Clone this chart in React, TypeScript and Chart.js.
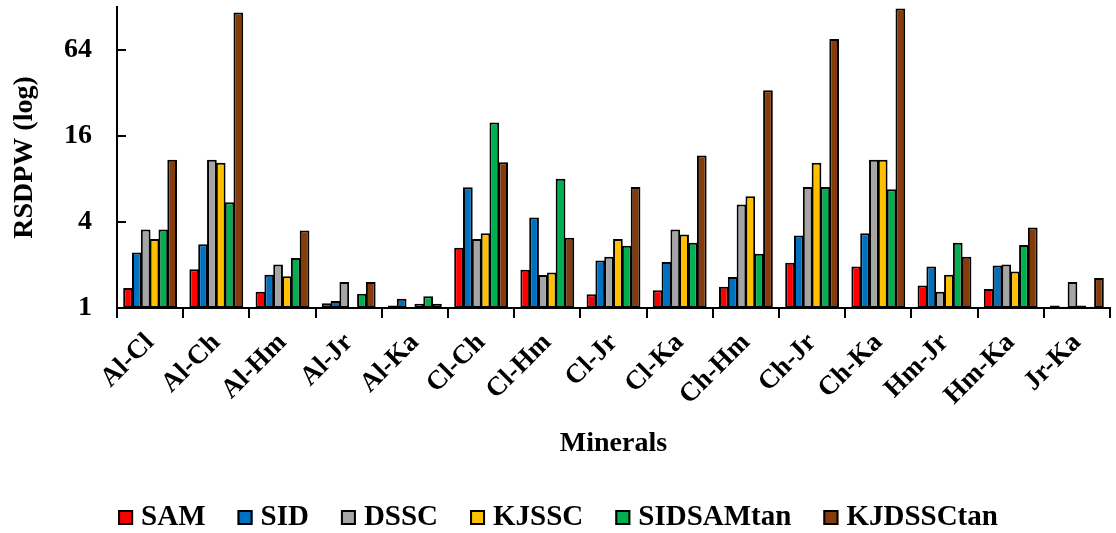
import React, { useEffect, useRef } from "react";
import { Chart, registerables } from "chart.js";

Chart.register(...registerables);

const categories = [
  "Al-Cl", "Al-Ch", "Al-Hm", "Al-Jr", "Al-Ka", "Cl-Ch", "Cl-Hm", "Cl-Jr",
  "Cl-Ka", "Ch-Hm", "Ch-Jr", "Ch-Ka", "Hm-Jr", "Hm-Ka", "Jr-Ka",
];

const samValues = [1.38, 1.87, 1.30, 1.08, 1.04, 2.64, 1.85, 1.25, 1.33, 1.41, 2.07, 1.95, 1.44, 1.36, 1.04];
const sidValues = [2.45, 2.80, 1.71, 1.12, 1.16, 7.0, 4.3, 2.15, 2.10, 1.65, 3.22, 3.34, 1.95, 1.98, 1.02];
const dsscValues = [3.55, 10.9, 2.02, 1.52, 0.9, 3.04, 1.70, 2.28, 3.55, 5.3, 7.02, 10.9, 1.30, 2.02, 1.52];
const kjsscValues = [3.04, 10.4, 1.67, 0.9, 1.07, 3.33, 1.77, 3.04, 3.27, 6.05, 10.4, 10.9, 1.71, 1.80, 1.04];
const sidsamtanValues = [3.55, 5.5, 2.24, 1.26, 1.21, 19.9, 8.03, 2.73, 2.86, 2.40, 7.02, 6.77, 2.86, 2.76, 1.02];
const kjdssctanValues = [10.9, 117, 3.49, 1.52, 1.07, 10.5, 3.10, 7.02, 11.7, 33.4, 76.5, 125, 2.28, 3.66, 1.62];

const yTickValues = [1, 4, 16, 64];

const seriesNames = ["SAM", "SID", "DSSC", "KJSSC", "SIDSAMtan", "KJDSSCtan"];
const seriesColors = ["#FF0000", "#0070C0", "#A5A5A5", "#FFC000", "#00B050", "#843C0C"];
const seriesValues = [samValues, sidValues, dsscValues, kjsscValues, sidsamtanValues, kjdssctanValues];

const FONT = "'Liberation Serif', 'Times New Roman', serif";

// Short inward tick marks on the value axis
const inwardTicks = {
  id: "inwardTicks",
  afterDraw(chart: any) {
    const y = chart.scales.y;
    const ctx = chart.ctx;
    const left = chart.chartArea.left;
    ctx.save();
    ctx.strokeStyle = "#000";
    ctx.lineWidth = 2;
    y.ticks.forEach((t: any) => {
      const py = Math.round(y.getPixelForValue(t.value));
      ctx.beginPath();
      ctx.moveTo(left, py);
      ctx.lineTo(left + 9, py);
      ctx.stroke();
    });
    ctx.restore();
  },
};

// Single-row legend under the axis title: bordered colour box, then bold name
const bottomLegend = {
  id: "bottomLegend",
  afterDraw(chart: any) {
    const ctx = chart.ctx;
    const box = 15;
    const gap = 8;
    const spacing = 32;
    const baseline = 525;
    ctx.save();
    ctx.font = `bold 29px ${FONT}`;
    const items = chart.data.datasets.map((ds: any) => ({
      label: ds.label,
      color: ds.backgroundColor,
      w: ctx.measureText(ds.label).width,
    }));
    const total =
      items.reduce((s: number, it: any) => s + box + gap + it.w, 0) + spacing * (items.length - 1);
    let x = (chart.width - total) / 2;
    ctx.textBaseline = "alphabetic";
    ctx.textAlign = "left";
    items.forEach((it: any) => {
      ctx.fillStyle = it.color;
      ctx.fillRect(x, baseline - box, box, box);
      ctx.strokeStyle = "#000";
      ctx.lineWidth = 2;
      ctx.strokeRect(x + 1, baseline - box + 1, box - 2, box - 2);
      ctx.fillStyle = "#000";
      ctx.fillText(it.label, x + box + gap, baseline);
      x += box + gap + it.w + spacing;
    });
    ctx.restore();
  },
};

export default function App() {
  const canvasRef = useRef<HTMLCanvasElement | null>(null);

  useEffect(() => {
    document.body.style.margin = "0";
    const canvas = canvasRef.current;
    if (!canvas) return;
    const chart = new Chart(canvas, {
      type: "bar",
      data: {
        labels: categories,
        datasets: seriesNames.map((name, i) => ({
          label: name,
          data: seriesValues[i],
          backgroundColor: seriesColors[i],
          borderColor: "#000",
          borderWidth: 2,
          borderSkipped: false,
          categoryPercentage: 0.8,
          barPercentage: 1.1,
          clip: 0,
        })),
      },
      options: {
        responsive: false,
        animation: false,
        layout: { padding: { left: 0, top: 7, right: 6, bottom: 0 } },
        plugins: {
          tooltip: { enabled: false },
          legend: { display: false },
        },
        scales: {
          x: {
            offset: true,
            afterFit: (scale: any) => {
              scale.height = 225;
            },
            grid: {
              display: true,
              offset: true,
              drawOnChartArea: false,
              drawTicks: true,
              tickLength: 10,
              color: "#000",
              lineWidth: 2,
            },
            border: { display: true, color: "#000", width: 2 },
            ticks: {
              color: "#000",
              font: { family: FONT, size: 27, weight: "bold" },
              minRotation: 45,
              maxRotation: 45,
              autoSkip: false,
              padding: 9,
            },
            title: {
              display: true,
              text: "Minerals",
              color: "#000",
              font: { family: FONT, size: 28, weight: "bold" },
              padding: { top: 0, bottom: 72 },
            },
          },
          y: {
            type: "logarithmic",
            min: 1,
            max: 128,
            afterBuildTicks: (scale: any) => {
              scale.ticks = yTickValues.map((v) => ({ value: v }));
            },
            afterFit: (scale: any) => {
              scale.width = 117;
              scale.paddingTop = 0;
              scale.paddingBottom = 0;
            },
            grid: { display: false, drawTicks: false },
            border: { display: true, color: "#000", width: 2 },
            ticks: {
              color: "#000",
              font: { family: FONT, size: 28, weight: "bold" },
              padding: 25,
              callback: (v: any) => String(v),
            },
            title: {
              display: true,
              text: "RSDPW (log)",
              color: "#000",
              font: { family: FONT, size: 28, weight: "bold" },
              padding: { top: 8, bottom: 0 },
            },
          },
        },
      },
      plugins: [inwardTicks, bottomLegend],
    });
    return () => chart.destroy();
  }, []);

  return (
    <div style={{ width: 1116, height: 533, background: "#fff" }}>
      <canvas ref={canvasRef} width={1116} height={533} style={{ display: "block" }} />
    </div>
  );
}
